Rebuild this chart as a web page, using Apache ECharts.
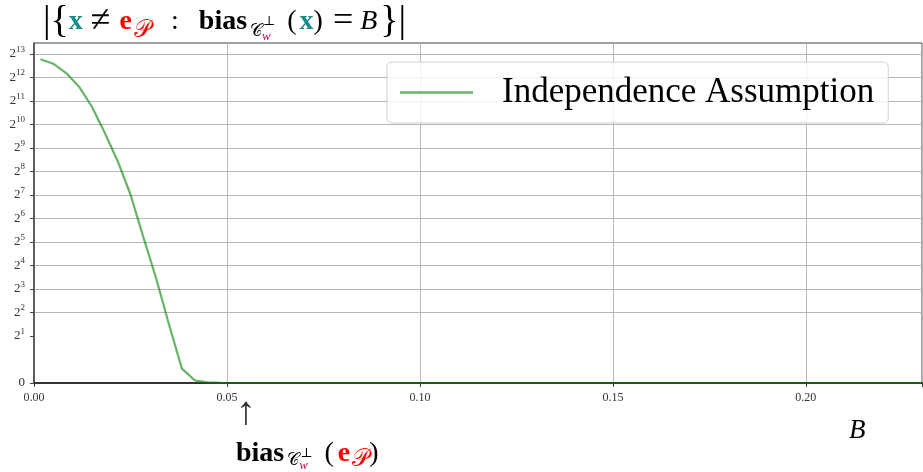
<!DOCTYPE html>
<html>
<head>
<meta charset="utf-8">
<script src="https://cdn.jsdelivr.net/npm/echarts@6/dist/echarts.min.js"></script>
<style>
  html, body { margin: 0; padding: 0; background: #fff; }
  #chart { width: 923px; height: 472px; }
</style>
</head>
<body>
<div id="chart"></div>
<script>
// B values where the curve was sampled, and the count at each one
const bValues = [0.00167, 0.005, 0.00833, 0.01167, 0.015, 0.01833, 0.02167, 0.025,
  0.02833, 0.03167, 0.035, 0.03833, 0.04167, 0.045, 0.04833, 0.05167, 0.055, 0.23];
const counts = [7030, 6160, 4680, 3130, 1730, 805, 350, 130,
  37, 10.9, 2.79, 0.61, 0.11, 0.025, 0.005, 0.001, 0, 0];
const xTicks = [0, 0.05, 0.1, 0.15, 0.2];
const yExponents = [1, 2, 3, 4, 5, 6, 7, 8, 9, 10, 11, 12, 13];
const seriesName = "Independence Assumption";

const SERIF = "'Liberation Serif', 'DejaVu Serif', serif";

// symlog base 2, linear below 1 (like matplotlib symlog, linthresh=1)
const symlog2 = (v) => (v <= 1 ? v : 1 + Math.log2(v));

const yLabelPos = [0].concat(yExponents.map((k) => k + 1));
// hide the grid line at 2^0
const gridColors = [];
for (let i = 0; i <= 15; i++) gridColors.push(i === 1 ? "rgba(0,0,0,0)" : "#b8b8b8");

// shared rich styles for the math bits
const mathRich = {
  x: { fontFamily: SERIF, fontWeight: "bold", fontSize: 28, fill: "#178a8a" },
  op: { fontFamily: SERIF, fontSize: 28, fill: "#000" },
  ne: { fontFamily: SERIF, fontSize: 36, fill: "#000", padding: [0, 8, 0, 8] },
  col: { fontFamily: SERIF, fontSize: 28, fill: "#000", padding: [0, 20, 0, 20] },
  lp: { fontFamily: SERIF, fontSize: 28, fill: "#000", padding: [0, 3, 0, 8] },
  eq: { fontFamily: SERIF, fontSize: 36, fill: "#000", padding: [0, 7, 0, 10] },
  e: { fontFamily: SERIF, fontWeight: "bold", fontSize: 28, fill: "#ff0000", padding: [0, 1, 0, 1] },
  p: { fontSize: 24, fill: "#ff0000", verticalAlign: "bottom", padding: [0, 0, 1, 1] },
  b: { fontFamily: SERIF, fontWeight: "bold", fontSize: 28, fill: "#000" },
  c: { fontSize: 17, fill: "#000", verticalAlign: "bottom", padding: [0, 0, 3, 3] },
  w: { fontFamily: SERIF, fontStyle: "italic", fontSize: 13, fill: "#cc0055", verticalAlign: "bottom", width: 1 },
  perp: { fontFamily: SERIF, fontSize: 13, fill: "#000", verticalAlign: "middle", padding: [0, 4, 0, 0] },
  i: { fontFamily: SERIF, fontStyle: "italic", fontSize: 28, fill: "#000", padding: [0, 3, 0, 0] },
};

const chart = echarts.init(document.getElementById("chart"));

const option = {
  animation: false,
  grid: {
    left: 34,
    right: 1,
    top: 43,
    bottom: 89,
    show: true,
    borderColor: "#444",
    borderWidth: 1,
  },
  legend: {
    left: 387,
    top: 62,
    padding: [13, 14, 13, 13],
    backgroundColor: "rgba(255,255,255,0.82)",
    borderColor: "#d0d0d0",
    borderWidth: 1,
    borderRadius: 5,
    icon: "rect",
    itemWidth: 73,
    itemHeight: 2.5,
    data: [seriesName],
    textStyle: {
      fontFamily: SERIF,
      fontSize: 35,
      color: "#000",
      padding: [0, 0, 0, 24],
    },
  },
  xAxis: {
    type: "value",
    min: 0,
    max: 0.2301,
    interval: 0.05,
    axisLine: { show: true, onZero: false, lineStyle: { color: "#333", width: 2 } },
    axisTick: { show: true, length: 4, lineStyle: { color: "#444" } },
    axisLabel: {
      margin: 9,
      fontFamily: SERIF,
      fontSize: 12,
      color: "#333",
      customValues: xTicks,
      formatter: (v) => v.toFixed(2),
    },
    splitLine: { show: true, lineStyle: { color: "#b8b8b8", width: 1 } },
  },
  yAxis: {
    type: "value",
    min: 0,
    max: 14.47,
    interval: 1,
    axisLine: { show: true, lineStyle: { color: "#444", width: 1.5 } },
    axisTick: { show: true, length: 4, customValues: yLabelPos, lineStyle: { color: "#444" } },
    axisLabel: {
      margin: 9,
      customValues: yLabelPos,
      formatter: (v) => (v === 0 ? "{m|0}" : "{m|2}{s|" + (v - 1) + "}"),
      rich: {
        m: { fontFamily: SERIF, fontSize: 13, color: "#333", lineHeight: 18 },
        s: { fontFamily: SERIF, fontSize: 9, color: "#333", verticalAlign: "top", lineHeight: 10 },
      },
    },
    splitLine: { show: true, lineStyle: { color: gridColors, width: 1 } },
  },
  series: [
    {
      name: seriesName,
      type: "line",
      data: bValues.map((b, i) => [b, symlog2(counts[i])]),
      showSymbol: false,
      color: "rgba(0,128,0,0.6)",
      lineStyle: { width: 2.2, color: "rgba(0,128,0,0.6)" },
      z: 3,
    },
  ],
  graphic: [
    {
      type: "text",
      left: 43,
      top: 1,
      style: {
        text:
          "|{{x|x}{ne|≠}{e|e}{p|𝒫}{col|:}{b|bias}{c|𝒞}{w|w}{perp|⊥}{lp|(}{x|x}{op|)}{eq|=}{i|B}}|",
        font: "38px " + SERIF,
        fill: "#000",
        lineHeight: 42,
        rich: mathRich,
      },
    },
    {
      type: "text",
      left: 236,
      top: 393,
      style: { text: "↑", font: "40px " + SERIF, fill: "#333" },
    },
    {
      type: "text",
      left: 236,
      top: 436,
      style: {
        text: "{b|bias}{c|𝒞}{w|w}{perp|⊥}{lp|(}{e|e}{p|𝒫}{op|)}",
        font: "28px " + SERIF,
        lineHeight: 36,
        rich: mathRich,
      },
    },
    {
      type: "text",
      left: 849,
      top: 417,
      style: { text: "B", font: "italic 27px " + SERIF, fill: "#000" },
    },
  ],
};

chart.setOption(option);
</script>
</body>
</html>
